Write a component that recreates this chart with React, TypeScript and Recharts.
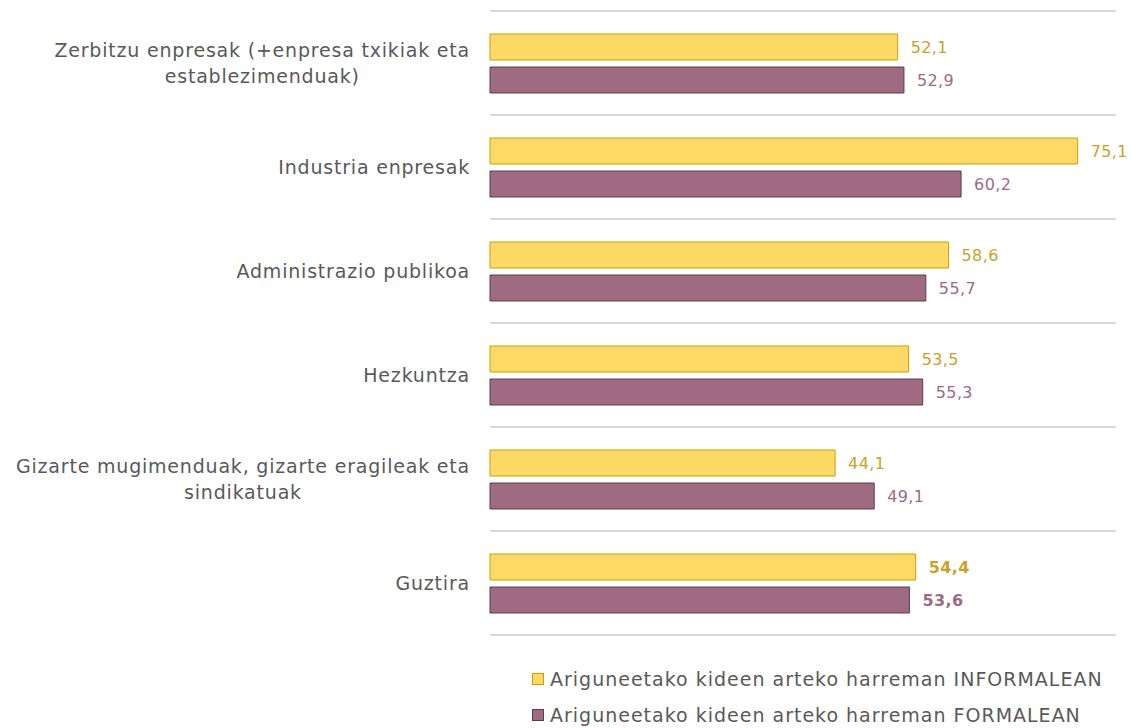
import { Bar, BarChart, CartesianGrid, LabelList, Legend, XAxis, YAxis } from "recharts";

const categories = [
  "Zerbitzu enpresak (+enpresa txikiak eta\nestablezimenduak)",
  "Industria enpresak",
  "Administrazio publikoa",
  "Hezkuntza",
  "Gizarte mugimenduak, gizarte eragileak eta\nsindikatuak",
  "Guztira",
];
const informal = [52.1, 75.1, 58.6, 53.5, 44.1, 54.4];
const formal = [52.9, 60.2, 55.7, 55.3, 49.1, 53.6];
const seriesNames = [
  "Ariguneetako kideen arteko harreman INFORMALEAN",
  "Ariguneetako kideen arteko harreman FORMALEAN",
];
const totalLabel = "Guztira";

const data = categories.map((name, i) => ({
  name,
  informal: informal[i],
  formal: formal[i],
}));

const FONT = "'DejaVu Sans', sans-serif";
const TEXT = "#595959";
const YELLOW = { fill: "#FFD966", stroke: "#C9A000", label: "#C9A227" };
const PURPLE = { fill: "#9E6B82", stroke: "#5E3A4E", label: "#9B6B86" };

function CategoryTick(props: any) {
  const { y, payload } = props;
  const lines = String(payload.value).split("\n");
  const lineH = 26;
  const h = lines.length * lineH;
  return (
    <foreignObject x={0} y={y - h / 2} width={470} height={h}>
      <div
        style={{
          display: "flex",
          justifyContent: "flex-end",
          fontFamily: FONT,
          fontSize: 19,
          letterSpacing: 0.8,
          lineHeight: `${lineH}px`,
          color: TEXT,
        }}
      >
        <div style={{ textAlign: "center", whiteSpace: "nowrap" }}>
          {lines.map((l, i) => (
            <div key={i}>{l}</div>
          ))}
        </div>
      </div>
    </foreignObject>
  );
}

const makeLabel = (color: string) => (props: any) => {
  const { x, y, width, height, value, index } = props;
  const bold = categories[index] === totalLabel;
  return (
    <text
      x={x + width + 13}
      y={y + height / 2}
      dy={6}
      fill={color}
      fontFamily={FONT}
      fontSize={16}
      letterSpacing={0.4}
      fontWeight={bold ? 700 : 400}
    >
      {String(value).replace(".", ",")}
    </text>
  );
};

function LegendContent() {
  const colors = [YELLOW, PURPLE];
  return (
    <div style={{ fontFamily: FONT, fontSize: 19, letterSpacing: 1, color: TEXT }}>
      {seriesNames.map((n, i) => (
        <div key={n} style={{ display: "flex", alignItems: "center", height: 36 }}>
          <span
            style={{
              width: 10,
              height: 10,
              background: colors[i].fill,
              border: `1px solid ${colors[i].stroke}`,
              marginRight: 6,
            }}
          />
          {n}
        </div>
      ))}
    </div>
  );
}

export default function App() {
  return (
    <div style={{ position: "absolute", left: 0, top: 0, background: "#fff" }}>
      <BarChart
        width={1131}
        height={728}
        data={data}
        layout="vertical"
        margin={{ top: 11, right: 15, bottom: 21, left: 0 }}
        barSize={26}
        barGap={7}
      >
        <CartesianGrid
          vertical={false}
          stroke="#D9D9D9"
          strokeWidth={2}
          horizontalCoordinatesGenerator={({ offset }: any) =>
            Array.from({ length: categories.length + 1 }, (_, i) =>
              offset.top + (i * offset.height) / categories.length
            )
          }
        />
        <XAxis type="number" domain={[0, 80]} hide />
        <YAxis
          type="category"
          dataKey="name"
          width={490}
          axisLine={false}
          tickLine={false}
          interval={0}
          tick={<CategoryTick />}
        />
        <Legend
          verticalAlign="bottom"
          content={<LegendContent />}
          wrapperStyle={{ position: "absolute", left: 532, top: 661, width: 600, height: 72 }}
        />
        <Bar
          dataKey="informal"
          name={seriesNames[0]}
          fill={YELLOW.fill}
          stroke={YELLOW.stroke}
          strokeWidth={1}
          isAnimationActive={false}
        >
          <LabelList dataKey="informal" content={makeLabel(YELLOW.label)} />
        </Bar>
        <Bar
          dataKey="formal"
          name={seriesNames[1]}
          fill={PURPLE.fill}
          stroke={PURPLE.stroke}
          strokeWidth={1}
          isAnimationActive={false}
        >
          <LabelList dataKey="formal" content={makeLabel(PURPLE.label)} />
        </Bar>
      </BarChart>
    </div>
  );
}
